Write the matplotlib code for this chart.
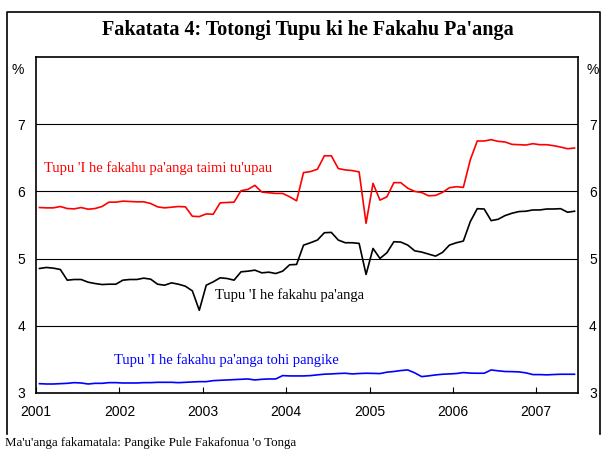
import numpy as np
import matplotlib.pyplot as plt
from matplotlib.lines import Line2D

# monthly data, Jan 2001 - Jun 2007
start_year = 2001
years = [2001, 2002, 2003, 2004, 2005, 2006, 2007]

time_deposits = [5.76, 5.755, 5.755, 5.775, 5.745, 5.74, 5.76, 5.735, 5.745, 5.775,
                 5.84, 5.84, 5.855, 5.85, 5.845, 5.845, 5.82, 5.77, 5.755, 5.765,
                 5.775, 5.77, 5.63, 5.625, 5.665, 5.66, 5.83, 5.835, 5.84, 6.01,
                 6.03, 6.09, 5.99, 5.98, 5.97, 5.97, 5.92, 5.86, 6.28, 6.295,
                 6.33, 6.53, 6.53, 6.34, 6.32, 6.31, 6.29, 5.525, 6.12, 5.87,
                 5.92, 6.13, 6.13, 6.047, 6.0, 5.983, 5.935, 5.94, 5.985, 6.055,
                 6.07, 6.06, 6.47, 6.75, 6.75, 6.77, 6.745, 6.735, 6.70, 6.695,
                 6.69, 6.71, 6.695, 6.695, 6.68, 6.66, 6.635, 6.645]

all_deposits = [4.853, 4.868, 4.858, 4.838, 4.679, 4.689, 4.689, 4.649, 4.629, 4.614,
                4.619, 4.619, 4.679, 4.689, 4.689, 4.709, 4.694, 4.619, 4.604, 4.639,
                4.619, 4.589, 4.52, 4.231, 4.604, 4.654, 4.714, 4.704, 4.679, 4.803,
                4.813, 4.828, 4.788, 4.798, 4.778, 4.813, 4.908, 4.913, 5.2, 5.236,
                5.276, 5.385, 5.39, 5.276, 5.236, 5.236, 5.226, 4.764, 5.151, 5.002,
                5.087, 5.251, 5.246, 5.201, 5.116, 5.097, 5.067, 5.037, 5.092, 5.201,
                5.236, 5.261, 5.55, 5.743, 5.738, 5.565, 5.585, 5.64, 5.675, 5.70,
                5.705, 5.724, 5.724, 5.738, 5.738, 5.743, 5.69, 5.705]

savings = [3.139, 3.134, 3.134, 3.139, 3.144, 3.154, 3.149, 3.134, 3.144, 3.144,
           3.154, 3.154, 3.149, 3.149, 3.149, 3.154, 3.154, 3.159, 3.159, 3.159,
           3.154, 3.159, 3.164, 3.169, 3.169, 3.184, 3.189, 3.194, 3.199, 3.204,
           3.209, 3.194, 3.204, 3.209, 3.209, 3.259, 3.254, 3.254, 3.254, 3.259,
           3.27, 3.28, 3.284, 3.29, 3.294, 3.284, 3.29, 3.294, 3.292, 3.289,
           3.31, 3.32, 3.334, 3.343, 3.30, 3.244, 3.255, 3.269, 3.279, 3.284,
           3.29, 3.304, 3.296, 3.294, 3.294, 3.343, 3.33, 3.32, 3.318, 3.314,
           3.30, 3.274, 3.274, 3.27, 3.275, 3.279, 3.279, 3.279]

x = start_year + (np.arange(len(time_deposits)) + 0.5) / 12

serif = 'Liberation Serif'
sans = 'Liberation Sans'

fig = plt.figure(figsize=(6.01, 4.5), dpi=100)
ax = fig.add_axes([36/601, 1 - 393/450, 542/601, 336/450])

# outer frame (left, top, right)
fx = [7/601, 7/601, 600/601, 600/601]
fy = [1 - 434/450, 1 - 12/450, 1 - 12/450, 1 - 434/450]
fig.lines.append(Line2D(fx, fy, transform=fig.transFigure, color='black', linewidth=1.2))

for v in [4, 5, 6, 7]:
    ax.axhline(v, color='black', linewidth=0.8, zorder=1)

ax.plot(x, time_deposits, color='#ff0000', linewidth=1.2, zorder=3)
ax.plot(x, all_deposits, color='black', linewidth=1.2, zorder=3)
ax.plot(x, savings, color='#0000ff', linewidth=1.2, zorder=3)

ax.set_xlim(2001, 2007.5)
ax.set_ylim(3, 8)
ax.set_xticks(years)
ax.set_xticklabels([str(y) for y in years], fontfamily=sans, fontsize=10)
ax.tick_params(axis='x', direction='in', length=4, pad=9)
ax.set_yticks([3, 4, 5, 6, 7])
ax.set_yticklabels(['3', '4', '5', '6', '7'], fontfamily=sans, fontsize=10)
ax.tick_params(axis='y', length=0, pad=8, labelright=True, right=False)
for s in ax.spines.values():
    s.set_linewidth(1.2)

ax.text(-0.022, 0.96, '%', transform=ax.transAxes, ha='right', va='center',
        fontfamily=sans, fontsize=10)
ax.text(1.016, 0.96, '%', transform=ax.transAxes, ha='left', va='center',
        fontfamily=sans, fontsize=10)

ax.text(2001.1, 6.35, "Tupu 'I he fakahu pa'anga taimi tu'upau", color='#ff0000',
        fontfamily=serif, fontsize=10.5, va='center')
ax.text(2003.15, 4.45, "Tupu 'I he fakahu pa'anga", color='black',
        fontfamily=serif, fontsize=10.5, va='center')
ax.text(2001.93, 3.49, "Tupu 'I he fakahu pa'anga tohi pangike", color='#0000ff',
        fontfamily=serif, fontsize=10.5, va='center')

fig.text(308/601, 1 - 30/450, "Fakatata 4: Totongi Tupu ki he Fakahu Pa'anga",
         ha='center', va='center', fontfamily=serif, fontweight='bold', fontsize=14.5)
fig.text(5/601, 1 - 443/450, "Ma'u'anga fakamatala: Pangike Pule Fakafonua 'o Tonga",
         ha='left', va='center', fontfamily=serif, fontsize=9.3)

fig.savefig('out.png', dpi=100)
